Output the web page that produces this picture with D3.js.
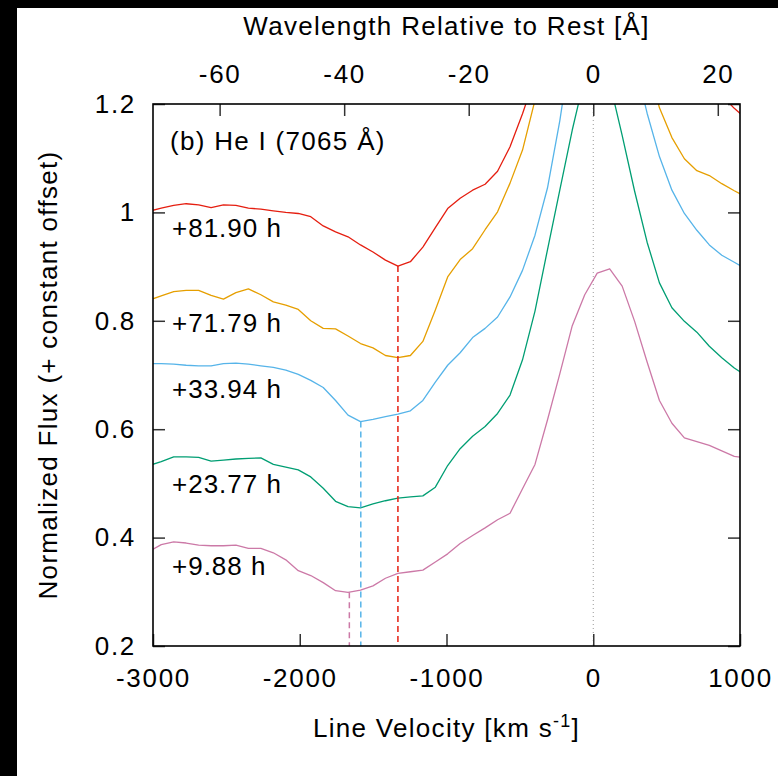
<!DOCTYPE html>
<html>
<head>
<meta charset="utf-8">
<script src="https://cdn.jsdelivr.net/npm/d3@7"></script>
<style>
body { margin: 0; background: #000; }
text { font-family: "Liberation Sans", Arial, sans-serif; fill: #000; }
</style>
</head>
<body>
<div id="chart"></div>
<script>
// velocity grid of the spectra (km/s)
var velocity = [-3029, -2944, -2859, -2774, -2689, -2604, -2520, -2435, -2350, -2265,
    -2180, -2095, -2010, -1925, -1840, -1756, -1671, -1586, -1501, -1416,
    -1331, -1246, -1161, -1076, -992, -907, -822, -737, -652, -567,
    -482, -397, -312, -228, -143, -58, 27, 112, 197, 282,
    367, 451, 536, 621, 706, 791, 876, 961, 1046];

var flux8190 = [1.002, 1.008, 1.013, 1.016, 1.014, 1.009, 1.014, 1.013, 1.008, 1.006,
    1.003, 1.000, 0.998, 0.992, 0.975, 0.964, 0.955, 0.940, 0.927, 0.912,
    0.901, 0.909, 0.936, 0.972, 1.007, 1.026, 1.041, 1.052, 1.076, 1.121,
    1.182, 1.250, 1.40, 1.55, 1.75, 1.95, 2.10, 2.15, 2.05, 1.85,
    1.65, 1.50, 1.42, 1.36, 1.31, 1.26, 1.216, 1.192, 1.172];

var flux7179 = [0.838, 0.846, 0.854, 0.856, 0.856, 0.847, 0.840, 0.852, 0.859, 0.848,
    0.835, 0.829, 0.821, 0.800, 0.786, 0.785, 0.772, 0.758, 0.750, 0.736,
    0.732, 0.736, 0.762, 0.820, 0.881, 0.913, 0.933, 0.968, 1.001, 1.054,
    1.115, 1.207, 1.32, 1.45, 1.60, 1.75, 1.82, 1.78, 1.60, 1.42,
    1.28, 1.193, 1.138, 1.099, 1.077, 1.068, 1.053, 1.040, 1.028];

var flux3394 = [0.721, 0.721, 0.720, 0.718, 0.717, 0.717, 0.721, 0.722, 0.720, 0.717,
    0.714, 0.709, 0.701, 0.690, 0.677, 0.653, 0.626, 0.614, 0.618, 0.623,
    0.628, 0.634, 0.653, 0.687, 0.718, 0.741, 0.769, 0.786, 0.807, 0.844,
    0.893, 0.958, 1.045, 1.169, 1.32, 1.48, 1.58, 1.55, 1.42, 1.28,
    1.183, 1.103, 1.041, 0.998, 0.967, 0.940, 0.921, 0.908, 0.895];

var flux2377 = [0.533, 0.540, 0.549, 0.549, 0.548, 0.541, 0.543, 0.545, 0.546, 0.547,
    0.535, 0.530, 0.525, 0.512, 0.491, 0.467, 0.457, 0.455, 0.462, 0.468,
    0.473, 0.475, 0.477, 0.493, 0.533, 0.564, 0.587, 0.605, 0.629, 0.663,
    0.728, 0.818, 0.931, 1.041, 1.152, 1.25, 1.30, 1.24, 1.142, 1.039,
    0.945, 0.870, 0.824, 0.799, 0.779, 0.753, 0.732, 0.713, 0.698];

var flux988 = [0.374, 0.387, 0.392, 0.390, 0.386, 0.385, 0.385, 0.386, 0.380, 0.380,
    0.372, 0.359, 0.339, 0.330, 0.317, 0.302, 0.299, 0.303, 0.311, 0.325,
    0.334, 0.337, 0.340, 0.355, 0.370, 0.389, 0.404, 0.418, 0.433, 0.445,
    0.490, 0.535, 0.617, 0.702, 0.791, 0.848, 0.888, 0.896, 0.864, 0.799,
    0.724, 0.653, 0.611, 0.584, 0.577, 0.570, 0.560, 0.550, 0.547];

var epochs = ["+81.90 h", "+71.79 h", "+33.94 h", "+23.77 h", "+9.88 h"];
var colors = ["#e51e10", "#e69f00", "#56b4e9", "#009e73", "#cc79a7"];
var labelFlux = [0.955, 0.779, 0.658, 0.482, 0.331];

// absorption minima marked with dashed lines
var minVel = [-1331, -1584, -1662];
var minFlux = [0.901, 0.614, 0.299];
var minColor = ["#e51e10", "#56b4e9", "#cc79a7"];

var velTicks = [-3000, -2000, -1000, 0, 1000];
var waveTicks = [-60, -40, -20, 0, 20];
var fluxTicks = [0.2, 0.4, 0.6, 0.8, 1, 1.2];

var restWave = 7065;
var cLight = 299792.458;

var W = 778, H = 776;
var margin = {top: 104, right: 38, bottom: 130, left: 153};
var pw = W - margin.left - margin.right,
    ph = H - margin.top - margin.bottom;
var fontSize = "26px", spacing = "1.3px";

var svg = d3.select("#chart")
    .append("svg")
    .attr("width", W)
    .attr("height", H);

svg.append("rect").attr("width", W).attr("height", H).attr("fill", "#000");
svg.append("rect").attr("x", 17).attr("y", 8).attr("width", W - 17).attr("height", H - 8).attr("fill", "#fff");

var g = svg.append("g").attr("transform", "translate(" + margin.left + "," + margin.top + ")");

var x = d3.scaleLinear().domain([-3000, 1000]).range([0, pw]);
var xTop = d3.scaleLinear()
    .domain([-3000 * restWave / cLight, 1000 * restWave / cLight])
    .range([0, pw]);
var y = d3.scaleLinear().domain([0.2, 1.2]).range([ph, 0]);

g.append("clipPath").attr("id", "clip")
    .append("rect").attr("width", pw).attr("height", ph);

var plot = g.append("g").attr("clip-path", "url(#clip)");

// rest velocity
plot.append("line")
    .attr("x1", x(0)).attr("x2", x(0))
    .attr("y1", 0).attr("y2", ph)
    .attr("stroke", "#999")
    .attr("stroke-width", 1)
    .attr("stroke-dasharray", "1,3");

var series = [flux8190, flux7179, flux3394, flux2377, flux988];
var line = d3.line()
    .x(function(d, i) { return x(velocity[i]); })
    .y(function(d) { return y(d); });

series.forEach(function(s, i) {
    plot.append("path")
        .datum(s)
        .attr("d", line)
        .attr("fill", "none")
        .attr("stroke", colors[i])
        .attr("stroke-width", 1.3)
        .attr("stroke-linejoin", "round");
});

minVel.forEach(function(v, i) {
    plot.append("line")
        .attr("x1", x(v)).attr("x2", x(v))
        .attr("y1", y(minFlux[i])).attr("y2", ph)
        .attr("stroke", minColor[i])
        .attr("stroke-width", 1.5)
        .attr("stroke-dasharray", "6,4");
});

// ticks (inside, gnuplot style)
var tickLen = 12;
var fmt = function(d) { return String(d); };

var axB = g.append("g").attr("transform", "translate(0," + ph + ")")
    .call(d3.axisBottom(x).tickValues(velTicks).tickSize(-tickLen).tickPadding(23).tickFormat(fmt));
var axT = g.append("g")
    .call(d3.axisTop(xTop).tickValues(waveTicks).tickSize(-tickLen).tickPadding(21).tickFormat(fmt));
var axL = g.append("g")
    .call(d3.axisLeft(y).tickValues(fluxTicks).tickSize(-tickLen).tickPadding(17).tickFormat(fmt));
var axR = g.append("g").attr("transform", "translate(" + pw + ",0)")
    .call(d3.axisRight(y).tickValues(fluxTicks).tickSize(-tickLen).tickFormat(""));

[axB, axT, axL, axR].forEach(function(a) {
    a.select(".domain").remove();
    a.selectAll(".tick line").attr("stroke", "#333").attr("stroke-width", 1.5);
    a.selectAll(".tick text")
        .style("font-family", "'Liberation Sans', Arial, sans-serif")
        .style("font-size", fontSize)
        .style("letter-spacing", "1.7px")
        .attr("fill", "#000");
});

g.append("rect")
    .attr("width", pw).attr("height", ph)
    .attr("fill", "none")
    .attr("stroke", "#000")
    .attr("stroke-width", 1.6);

// annotations
g.append("text")
    .attr("x", 170 - margin.left)
    .attr("y", 150 - margin.top)
    .style("font-size", fontSize)
    .style("letter-spacing", spacing)
    .text("(b) He I (7065 Å)");

epochs.forEach(function(t, i) {
    g.append("text")
        .attr("x", 172 - margin.left)
        .attr("y", y(labelFlux[i]))
        .style("font-size", fontSize)
        .style("letter-spacing", "1px")
        .text(t);
});

// axis titles
svg.append("text")
    .attr("x", margin.left + pw / 2)
    .attr("y", 35)
    .attr("text-anchor", "middle")
    .style("font-size", fontSize)
    .style("letter-spacing", spacing)
    .text("Wavelength Relative to Rest [Å]");

var xt = svg.append("text")
    .attr("x", margin.left + pw / 2)
    .attr("y", 737)
    .attr("text-anchor", "middle")
    .style("font-size", fontSize)
    .style("letter-spacing", spacing);
xt.append("tspan").text("Line Velocity [km s");
xt.append("tspan").attr("dy", -10).style("font-size", "18px").text("-1");
xt.append("tspan").attr("dy", 10).text("]");

svg.append("text")
    .attr("transform", "translate(57," + (margin.top + ph / 2) + ") rotate(-90)")
    .attr("text-anchor", "middle")
    .style("font-size", fontSize)
    .style("letter-spacing", spacing)
    .text("Normalized Flux (+ constant offset)");
</script>
</body>
</html>
